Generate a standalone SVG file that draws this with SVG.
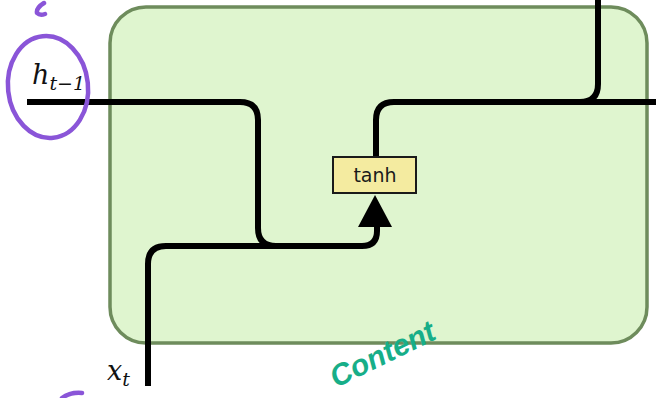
<svg xmlns="http://www.w3.org/2000/svg" width="656" height="398" viewBox="0 0 656 398">
  <style>
    .cell { fill: #dff5cf; stroke: #6e8c5c; stroke-width: 3.5; }
    .wire { fill: none; stroke: #000; stroke-width: 6; stroke-linejoin: round; }
    .gate { fill: #f4eba0; stroke: #1a1a1a; stroke-width: 2; }
    .gate-label { font-family: "DejaVu Sans", sans-serif; font-size: 19px; fill: #1a1a1a; text-anchor: middle; }
    .var { font-family: "DejaVu Serif", "Liberation Serif", serif; font-style: italic; fill: #111; }
    .ink-purple { fill: none; stroke: #8a55d8; stroke-width: 4.5; stroke-linecap: round; stroke-linejoin: round; }
    .ink-green { font-family: "Liberation Sans", sans-serif; font-style: italic; font-weight: bold; fill: #17ae88; }
  </style>

  <!-- cell body -->
  <g id="cell">
    <rect class="cell" x="110" y="7" width="537" height="336" rx="36" ry="36"/>
  </g>

  <!-- connectors -->
  <g id="connectors">
    <!-- previous hidden state, down into the merge -->
    <path class="wire" d="M27,102 H240 Q258,102 258,120 V228 Q258,246 276,246 H362"/>
    <!-- input x_t, up into the merge -->
    <path class="wire" d="M148,386 V264 Q148,246 166,246 H362 Q377,246 377,231 V226"/>
    <!-- arrowhead into tanh -->
    <polygon points="375,195 358,227 392,227" fill="#000"/>
    <!-- tanh output to new hidden state -->
    <path class="wire" d="M376,157 V120 Q376,102 394,102 H580 Q598,102 598,84 V0"/>
    <path class="wire" d="M580,102 H656"/>
  </g>

  <!-- tanh layer -->
  <g id="tanh">
    <rect class="gate" x="333" y="157" width="83" height="36"/>
    <text class="gate-label" x="375" y="182">tanh</text>
  </g>

  <!-- labels -->
  <g id="h-prev">
    <text class="var" x="32" y="84" font-size="27">h<tspan font-size="19" dy="6">t−1</tspan></text>
  </g>
  <g id="x-t">
    <text class="var" x="107" y="380" font-size="27">x<tspan font-size="19" dy="6">t</tspan></text>
  </g>

  <!-- handwritten annotations -->
  <g id="notes">
    <ellipse class="ink-purple" cx="48" cy="87" rx="40" ry="51" transform="rotate(-6 48 87)"/>
    <path class="ink-purple" d="M44,3 Q36,8 37,13 Q40,16 45,14"/>
    <path class="ink-purple" d="M62,398 Q70,392 82,393"/>
    <text class="ink-green" x="0" y="0" font-size="30" transform="translate(336,388) rotate(-26)">Content</text>
  </g>
</svg>
